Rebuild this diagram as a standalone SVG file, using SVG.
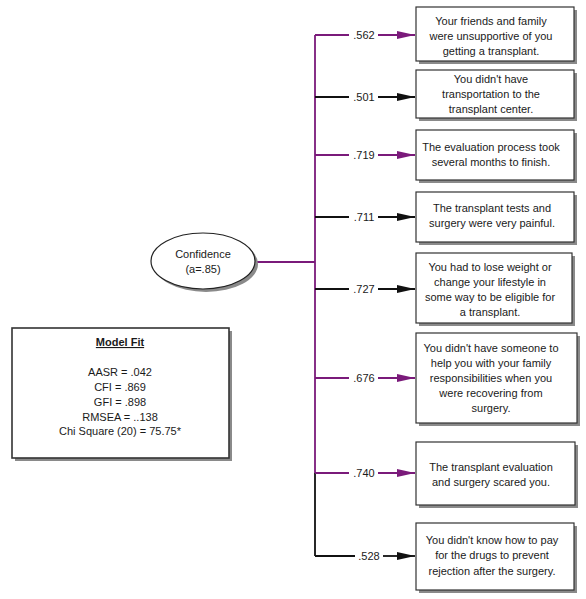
<svg xmlns="http://www.w3.org/2000/svg" width="586" height="599" viewBox="0 0 586 599">
<style>
text{font-family:"Liberation Sans",Arial,sans-serif;font-size:11px;fill:#1a1a1a}
.t{text-anchor:middle}
.box{fill:#fff;stroke:#333;stroke-width:1.2}
.sh{fill:#8a8a8a}
.p{stroke:#7a1a7a;stroke-width:1.8;fill:none}
.k{stroke:#111;stroke-width:1.8;fill:none}
.ap{stroke:#7a1a7a;stroke-width:1.8;fill:none;marker-end:url(#mp)}
.ak{stroke:#111;stroke-width:1.8;fill:none;marker-end:url(#mk)}
</style>
<defs>
<marker id="mp" viewBox="0 0 18 8" refX="18" refY="4" markerWidth="18" markerHeight="8" markerUnits="userSpaceOnUse" orient="auto"><path d="M0,0 L18,4 L0,8 z" fill="#7a1a7a"/></marker>
<marker id="mk" viewBox="0 0 18 8" refX="18" refY="4" markerWidth="18" markerHeight="8" markerUnits="userSpaceOnUse" orient="auto"><path d="M0,0 L18,4 L0,8 z" fill="#111"/></marker>
</defs>

<g id="connectors">
<path class="p" d="M256,262 H315"/>
<path class="p" d="M315,35 V473"/>
<path class="k" d="M315,473 V556"/>
<path class="p" d="M315,35 H349"/><path class="ap" d="M378,35 H415"/>
<path class="k" d="M315,97 H349"/><path class="ak" d="M378,97 H415"/>
<path class="p" d="M315,155 H349"/><path class="ap" d="M378,155 H415"/>
<path class="k" d="M315,217 H349"/><path class="ak" d="M378,217 H415"/>
<path class="k" d="M315,289 H349"/><path class="ak" d="M378,289 H415"/>
<path class="p" d="M315,378 H349"/><path class="ap" d="M378,378 H415"/>
<path class="p" d="M315,473 H349"/><path class="ap" d="M378,473 H415"/>
<path class="k" d="M315,556 H355"/><path class="ak" d="M383,556 H415"/>
<text x="364" y="39" class="t">.562</text>
<text x="364" y="101" class="t">.501</text>
<text x="364" y="159" class="t">.719</text>
<text x="364" y="221" class="t">.711</text>
<text x="364" y="293" class="t">.727</text>
<text x="364" y="382" class="t">.676</text>
<text x="364" y="477" class="t">.740</text>
<text x="369" y="560" class="t">.528</text>
</g>

<g id="confidence">
<ellipse cx="206" cy="264" rx="52" ry="28" fill="#8a8a8a"/>
<ellipse cx="203" cy="261" rx="52" ry="28" fill="#fff" stroke="#222" stroke-width="1.2"/>
<text x="203" y="258" class="t">Confidence</text>
<text x="203" y="273" class="t">(a=.85)</text>
</g>

<g id="modelfit">
<rect x="15" y="331" width="217" height="130" class="sh"/>
<rect x="12" y="328" width="217" height="130" fill="#fff" stroke="#333" stroke-width="1.6"/>
<text x="120" y="346" class="t" font-weight="bold" text-decoration="underline">Model Fit</text>
<text x="120" y="376" class="t">AASR = .042</text>
<text x="120" y="391" class="t">CFI = .869</text>
<text x="120" y="406" class="t">GFI = .898</text>
<text x="120" y="421" class="t">RMSEA = ..138</text>
<text x="120" y="435" class="t">Chi Square (20) = 75.75*</text>
</g>

<g id="item1">
<rect x="419" y="10" width="158" height="54" class="sh"/>
<rect x="416" y="7" width="158" height="54" class="box"/>
<text x="491" y="25" class="t">Your friends and family</text>
<text x="491" y="40" class="t">were unsupportive of you</text>
<text x="491" y="55" class="t">getting a transplant.</text>
</g>
<g id="item2">
<rect x="419" y="73" width="158" height="48" class="sh"/>
<rect x="416" y="70" width="158" height="48" class="box"/>
<text x="491" y="83" class="t">You didn't have</text>
<text x="491" y="98" class="t">transportation to the</text>
<text x="491" y="113" class="t">transplant center.</text>
</g>
<g id="item3">
<rect x="419" y="133" width="158" height="50" class="sh"/>
<rect x="416" y="130" width="158" height="50" class="box"/>
<text x="491" y="151" class="t">The evaluation process took</text>
<text x="491" y="166" class="t">several months to finish.</text>
</g>
<g id="item4">
<rect x="419" y="195" width="158" height="50" class="sh"/>
<rect x="416" y="192" width="158" height="50" class="box"/>
<text x="492" y="212" class="t">The transplant tests and</text>
<text x="492" y="227" class="t">surgery were very painful.</text>
</g>
<g id="item5">
<rect x="419" y="256" width="156" height="70" class="sh"/>
<rect x="416" y="253" width="156" height="70" class="box"/>
<text x="490" y="271" class="t">You had to lose weight or</text>
<text x="490" y="286" class="t">change your lifestyle in</text>
<text x="490" y="301" class="t">some way to be eligible for</text>
<text x="490" y="316" class="t">a transplant.</text>
</g>
<g id="item6">
<rect x="419" y="336" width="161" height="90" class="sh"/>
<rect x="416" y="333" width="161" height="90" class="box"/>
<text x="491" y="352" class="t">You didn't have someone to</text>
<text x="491" y="367" class="t">help you with your family</text>
<text x="491" y="382" class="t">responsibilities when you</text>
<text x="491" y="397" class="t">were recovering from</text>
<text x="491" y="412" class="t">surgery.</text>
</g>
<g id="item7">
<rect x="419" y="445" width="159" height="63" class="sh"/>
<rect x="416" y="442" width="159" height="63" class="box"/>
<text x="491" y="471" class="t">The transplant evaluation</text>
<text x="491" y="486" class="t">and surgery scared you.</text>
</g>
<g id="item8">
<rect x="419" y="526" width="158" height="67" class="sh"/>
<rect x="416" y="523" width="158" height="67" class="box"/>
<text x="492" y="544" class="t">You didn't know how to pay</text>
<text x="492" y="559" class="t">for the drugs to prevent</text>
<text x="492" y="575" class="t">rejection after the surgery.</text>
</g>
</svg>
